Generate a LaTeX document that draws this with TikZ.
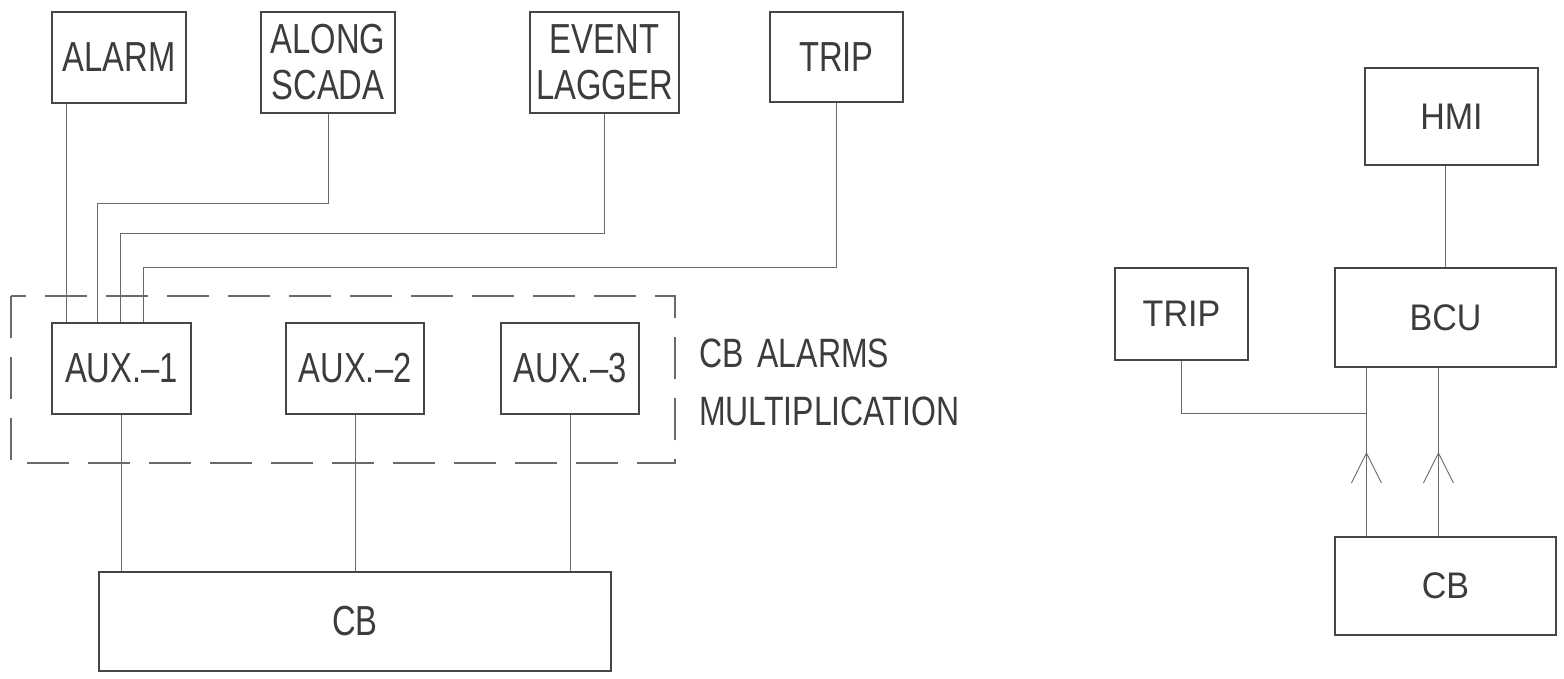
\documentclass[tikz,border=0pt]{standalone}
\usepackage{fontspec}
\newfontfamily\leftfont{Liberation Sans}[FakeStretch=0.78]
\newfontfamily\rightfont{Liberation Sans}[FakeStretch=0.92]
\usetikzlibrary{
  arrows.meta,
  positioning,
  calc,
  decorations.markings
}
\definecolor{boxcolor}{RGB}{70, 70, 70}
\definecolor{linecolor}{RGB}{105, 105, 105}
\definecolor{labelcolor}{RGB}{60, 60, 60}
\tikzset{
blocktext/.style={
  align=center,
  text=labelcolor,
  inner sep=0pt
},
leftblock/.style={
  draw=boxcolor,
  line width=1.1pt,
  blocktext,
  font=\leftfont\fontsize{42}{46}\selectfont
},
rightblock/.style={
  draw=boxcolor,
  line width=1.1pt,
  blocktext,
  font=\rightfont\fontsize{37}{42}\selectfont
},
wire/.style={
  draw=linecolor,
  line width=0.9pt
},
groupbox/.style={
  draw=linecolor,
  line width=1.1pt,
  dash pattern=on 42pt off 19pt
},
grouplabel/.style={
  align=left,
  anchor=north west,
  inner sep=0pt,
  text=labelcolor,
  font=\leftfont\fontsize{41}{58}\selectfont
},
flow/.style={
  wire,
  postaction={decorate},
  decoration={markings, mark=at position 0.5 with
    {\arrow{Straight Barb[length=30pt,width=30pt,line width=0.9pt]}}}
}
}
\begin{document}
\begin{tikzpicture}[x=1pt, y=-1pt]
  \useasboundingbox (0,0) rectangle (1564,678);
  \fill[white] (0,0) rectangle (1564,678);

  % Top row
  \node[leftblock, minimum width=134pt, minimum height=91pt] (alarm) at (119,57.5) {ALARM};
  \node[leftblock, minimum width=134pt, minimum height=101pt] (scada) at (328,62.5) {ALONG\\SCADA};
  \node[leftblock, minimum width=149pt, minimum height=101pt] (logger) at (604.5,62.5) {EVENT\\LAGGER};
  \node[leftblock, minimum width=133pt, minimum height=90pt] (tripA) at (836.5,57) {TRIP};

  % Aux relays
  \node[leftblock, minimum width=139pt, minimum height=91pt] (aux1) at (121.5,368.5) {AUX.\textendash1};
  \node[leftblock, minimum width=138pt, minimum height=91pt] (aux2) at (355,368.5) {AUX.\textendash2};
  \node[leftblock, minimum width=138pt, minimum height=91pt] (aux3) at (570,368.5) {AUX.\textendash3};
  \node[leftblock, minimum width=512pt, minimum height=99pt] (cbA) at (355,621.5) {CB};

  % Multiplication group
  \draw[groupbox] (11,296) rectangle (675,463);
  \node[grouplabel] (multi) at (699,339) {CB\hspace{14pt}ALARMS\\MULTIPLICATION};

  % Wiring, left part
  \draw[wire] ([xshift=15pt]alarm.south west) -- ([xshift=15pt]aux1.north west);
  \draw[wire] (scada.south) -- ++(0,90) -| ([xshift=46pt]aux1.north west);
  \draw[wire] (logger.south) -- ++(0,120) -| ([xshift=69pt]aux1.north west);
  \draw[wire] (tripA.south) -- ++(0,165) -| ([xshift=92pt]aux1.north west);
  \draw[wire] (aux1.south) -- (aux1.south |- cbA.north);
  \draw[wire] (aux2.south) -- (aux2.south |- cbA.north);
  \draw[wire] (aux3.south) -- (aux3.south |- cbA.north);

  % Right part
  \node[rightblock, minimum width=173pt, minimum height=97pt] (hmi) at (1451.5,116.5) {HMI};
  \node[rightblock, minimum width=221pt, minimum height=99pt] (bcu) at (1445.5,317.5) {BCU};
  \node[rightblock, minimum width=133pt, minimum height=92pt] (tripB) at (1181.5,314) {TRIP};
  \node[rightblock, minimum width=221pt, minimum height=98pt] (cbB) at (1445.5,586) {CB};
  \coordinate (tap) at ([xshift=32pt, yshift=-46pt]bcu.south west);

  \draw[wire] (bcu.north) -- (bcu.north |- hmi.south);
  \draw[wire] (tripB.south) |- (tap);
  \draw[flow] ([xshift=32pt]cbB.north west) -- ([xshift=32pt]bcu.south west);
  \draw[flow] ([xshift=104pt]cbB.north west) -- ([xshift=104pt]bcu.south west);
\end{tikzpicture}
\end{document}
